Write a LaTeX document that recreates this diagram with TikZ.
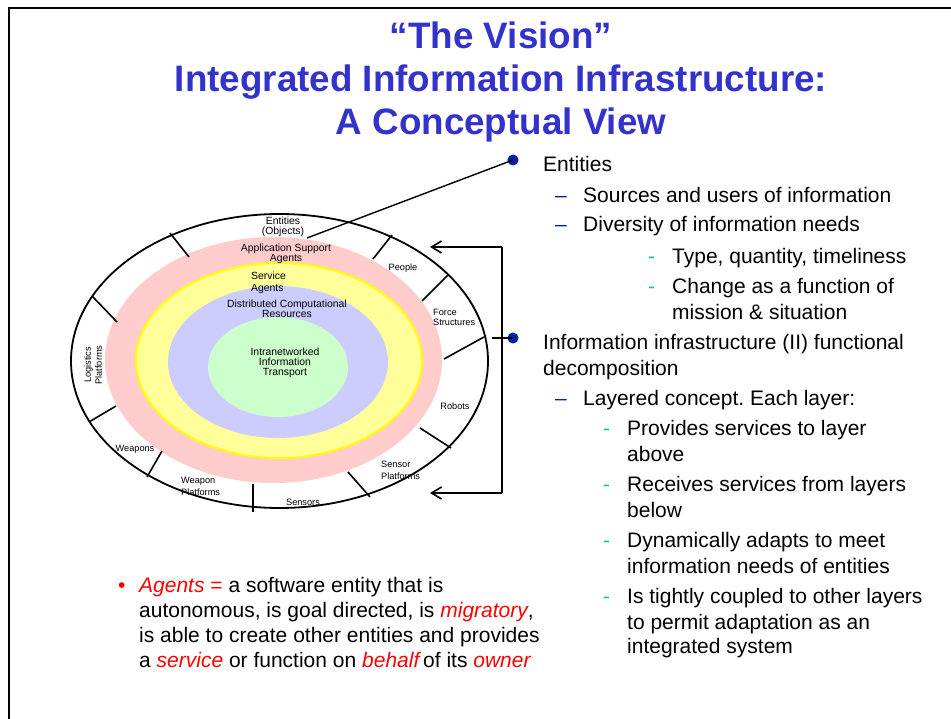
\documentclass[tikz,border=0pt]{standalone}
\usepackage{fontspec}
\setmainfont{Liberation Sans}
\usetikzlibrary{arrows.meta}
\frenchspacing
\definecolor{titleblue}{HTML}{3333CC}
\definecolor{bulletblue}{HTML}{0022AA}
\definecolor{dashteal}{HTML}{00C896}
\definecolor{agentred}{HTML}{FF0000}
\definecolor{pinkfill}{HTML}{FFCCCC}
\definecolor{yellowfill}{HTML}{FFFF99}
\definecolor{yellowline}{HTML}{FFFF00}
\definecolor{bluefill}{HTML}{CCCCFF}
\definecolor{greenfill}{HTML}{CCFFCC}
\begin{document}
\frenchspacing
\begin{tikzpicture}[x=1bp,y=-1bp,
  title/.style={anchor=base,inner sep=0pt,text=titleblue,font=\fontsize{36.8bp}{43bp}\selectfont\bfseries},
  body/.style={anchor=base west,inner sep=0pt,font=\fontsize{21bp}{25bp}\selectfont\frenchspacing},
  dashtwo/.style={anchor=base west,inner sep=0pt,text=bulletblue,font=\fontsize{21bp}{25bp}\selectfont},
  dashthree/.style={anchor=base west,inner sep=0pt,text=dashteal,font=\fontsize{21bp}{25bp}\selectfont},
  lbl/.style={inner sep=0pt,align=center,font=\fontsize{10.4bp}{10bp}\selectfont},
  olbl/.style={inner sep=0pt,align=center,font=\fontsize{9.2bp}{11bp}\selectfont},
  spoke/.style={line width=1.6bp},
  dot/.style={circle,fill=bulletblue,draw=bulletblue,line width=1bp,minimum size=10bp,inner sep=0pt},
  conn/.style={line width=1.4bp},
  arr/.style={line width=1.6bp,-{Straight Barb[length=10bp,width=12bp]}},
  red/.style={text=agentred}
]
\path[use as bounding box] (0,0) rectangle (951,719);
% frame
\draw[line width=2bp] (9,719) -- (9,8) -- (951,8);

% title
\node[title] (t1) at (501,49) {“The Vision”};
\node[title] (t2) at (501,92) {Integrated Information Infrastructure:};
\node[title] (t3) at (501,135) {A Conceptual View};

% ellipses
\fill[pinkfill] (273.5,360) ellipse [x radius=168.5bp, y radius=123bp];
\filldraw[fill=yellowfill,draw=yellowline,line width=2bp] (279,360.5) ellipse [x radius=143bp, y radius=97.5bp];
\fill[bluefill] (278,362) ellipse [x radius=110bp, y radius=76bp];
\fill[greenfill] (278,367) ellipse [x radius=70bp, y radius=50bp];
\draw[line width=1.8bp] (279.5,361) ellipse [x radius=208.5bp, y radius=147bp];

% spokes
\draw[spoke] (170,233) -- (189,257);
\draw[spoke] (392,235) -- (373,259);
\draw[spoke] (448,275) -- (422,301);
\draw[spoke] (484,337) -- (444,359);
\draw[spoke] (451,448) -- (420,428);
\draw[spoke] (370,497) -- (348,472);
\draw[spoke] (253,484) -- (253,512);
\draw[spoke] (147,477) -- (162,451);
\draw[spoke] (89,422) -- (116,406);
\draw[spoke] (92,296) -- (117,322);

% diagram labels
\node[lbl] (lent) at (283,227) {Entities\\(Objects)};
\node[lbl] (lapp) at (286,254) {Application Support\\Agents};
\node[lbl,align=left,anchor=west,font=\fontsize{10.4bp}{12bp}\selectfont] (lsrv) at (251,283) {Service\\Agents};
\node[lbl,font=\fontsize{10.4bp}{8.5bp}\selectfont] (ldcr) at (287,309) {Distributed Computational\\Resources};
\node[lbl] (liit) at (285,363) {Intranetworked\\Information\\Transport};
\node[olbl] (lpeo) at (403,268) {People};
\node[olbl,align=left,anchor=west,font=\fontsize{9.2bp}{10bp}\selectfont] (lfor) at (433,317) {Force\\Structures};
\node[olbl] (lrob) at (455,406) {Robots};
\node[olbl,align=left,anchor=west,font=\fontsize{9.2bp}{12bp}\selectfont] (lsep) at (381,470) {Sensor\\Platforms};
\node[olbl] (lsen) at (303,502) {Sensors};
\node[olbl,align=left,anchor=west,font=\fontsize{9.2bp}{12bp}\selectfont] (lwpp) at (181,486) {Weapon\\Platforms};
\node[olbl] (lwea) at (135,449) {Weapons};
\node[olbl,rotate=90] (llog) at (93,365) {Logistics\\Platforms};

% bullets and connectors
\node[dot] (b1) at (513,160) {};
\node[dot] (b2) at (513,338) {};
\coordinate (eobj) at (307,238);
\draw[conn] (eobj) -- (b1.center);
\coordinate (btop) at (502,247);
\coordinate (bbot) at (502,493);
\coordinate (atop) at (430,247);
\coordinate (abot) at (430,493);
\coordinate (bmid) at (492,338);
\draw[line width=1.6bp] (btop) -- (bbot);
\draw[arr] (btop) -- (atop);
\draw[arr] (bbot) -- (abot);
\draw[line width=1.6bp] (bmid) -- (b2.center);

% right text
\node[body] (e1) at (543,172) {Entities};
\node[dashtwo] (d1) at (555,202) {–};
\node[body] (e2) at (583,202) {Sources and users of information};
\node[dashtwo] (d2) at (555,231) {–};
\node[body] (e3) at (583,231) {Diversity of information needs};
\node[dashthree] (d3) at (648,263) {-};
\node[body] (e4) at (672,263) {Type, quantity, timeliness};
\node[dashthree] (d4) at (648,293) {-};
\node[body] (e5) at (672,293) {Change as a function of};
\node[body] (e6) at (672,319) {mission \& situation};
\node[body] (i1) at (543,349) {Information infrastructure (II) functional};
\node[body] (i2) at (543,375) {decomposition};
\node[dashtwo] (d5) at (555,405) {–};
\node[body] (i3) at (583,405) {Layered concept. Each layer:};
\node[dashthree] (d6) at (603,435) {-};
\node[body] (i4) at (627,435) {Provides services to layer};
\node[body] (i5) at (627,461) {above};
\node[dashthree] (d7) at (603,491) {-};
\node[body] (i6) at (627,491) {Receives services from layers};
\node[body] (i7) at (627,517) {below};
\node[dashthree] (d8) at (603,547) {-};
\node[body] (i8) at (627,547) {Dynamically adapts to meet};
\node[body] (i9) at (627,573) {information needs of entities};
\node[dashthree] (d9) at (603,603) {-};
\node[body] (i10) at (627,603) {Is tightly coupled to other layers};
\node[body] (i11) at (627,629) {to permit adaptation as an};
\node[body] (i12) at (627,653) {integrated system};

% agents text
\node[body,red] (ab) at (118,592) {•};
\node[body] (a1) at (139,592) {\textcolor{agentred}{{\itshape Agents} =} a software entity that is};
\node[body] (a2) at (139,617) {autonomous, is goal directed, is \textcolor{agentred}{\itshape migratory},};
\node[body] (a3) at (139,642) {is able to create other entities and provides};
\node[body] (a4) at (139,667) {a \textcolor{agentred}{\itshape service} or function on \textcolor{agentred}{\itshape behalf}\hspace{-2bp} of its \textcolor{agentred}{\itshape owner}};
\end{tikzpicture}
\end{document}
